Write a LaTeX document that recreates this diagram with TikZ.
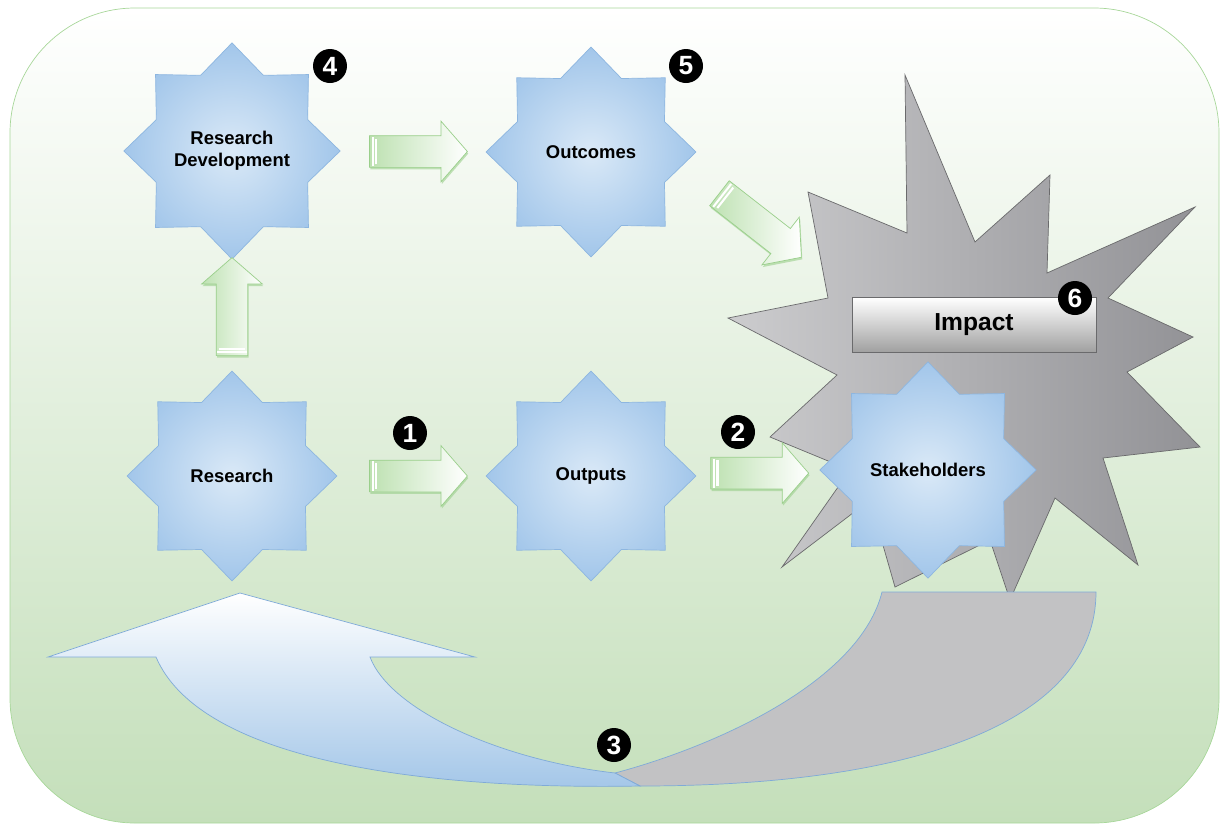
\documentclass[tikz,border=0pt]{standalone}
\usepackage{fontspec}
\setmainfont{Liberation Sans}
\usetikzlibrary{shapes.geometric,shapes.arrows,calc,shadows}

\definecolor{bgbot}{HTML}{C4DFBA}
\definecolor{bgline}{HTML}{A8D79A}
\definecolor{starin}{HTML}{DAE9F7}
\definecolor{starout}{HTML}{A2C6EA}
\definecolor{starline}{HTML}{8DB6E0}
\definecolor{arrgreen}{HTML}{BDE1B1}
\definecolor{arrline}{HTML}{9ACF8B}
\definecolor{boomlight}{HTML}{CCCCCE}
\definecolor{boomdark}{HTML}{929296}
\definecolor{boomline}{HTML}{6A6A6C}
\definecolor{loopblue}{HTML}{A3C6E8}
\definecolor{loopline}{HTML}{7FAAD8}
\definecolor{loopgray}{HTML}{C2C2C4}

\tikzset{
  starnode/.style={star, star points=8, star point ratio=1.32, minimum size=4.2cm,
    inner sep=0pt, draw=starline, inner color=starin, outer color=starout,
    font=\bfseries\fontsize{10.5}{12.5}\selectfont, align=center},
  greenarrow/.style={single arrow, minimum height=1.96cm, inner xsep=0pt, inner ysep=0.31cm,
    single arrow head extend=0.29cm, single arrow tip angle=98,
    draw=arrline, left color=arrgreen, right color=white,
    drop shadow={shadow xshift=0.5pt, shadow yshift=-1.2pt, fill=arrline, opacity=0.6}},
  numdot/.style={circle, fill=black, text=white, minimum size=0.68cm, inner sep=0pt,
    font=\bfseries\fontsize{15}{15}\selectfont},
  impactbox/.style={rectangle, minimum width=4.88cm, minimum height=1.1cm, draw=boomline,
    top color=white, bottom color=gray!75, font=\bfseries\fontsize{14}{14}\selectfont}
}
\newcommand{\tailmarks}[1]{%
  \draw[white, line width=1.2pt] ($(#1.before tail)!0.05!(#1.before head)$) -- ($(#1.after tail)!0.05!(#1.after head)$);
  \draw[white, line width=1.2pt] ($(#1.before tail)!0.1!(#1.before head)$) -- ($(#1.after tail)!0.1!(#1.after head)$);}

\begin{document}
\begin{tikzpicture}[x=0.02cm, y=-0.02cm]
  \useasboundingbox (0,0) rectangle (1221,826);
  \draw[bgline, rounded corners=2.5cm, top color=white, middle color=white!80!bgbot, bottom color=bgbot]
    (10,8) rectangle (1219,823);

  % impact burst
  \draw[boomline, left color=boomlight, right color=boomdark]
    (905,75) -- (975,242) -- (1050,175) -- (1047,273) -- (1195,207) -- (1108,298)
    -- (1193,337) -- (1127,372) -- (1200,447) -- (1103,458) -- (1138,565) -- (1055,498)
    -- (1010,600) -- (990,540) -- (895,587) -- (870,500) -- (782,567) -- (850,470)
    -- (770,437) -- (837,375) -- (728,318) -- (828,298) -- (808,192) -- (907,233) -- cycle;
  \node[impactbox] (impact) at (974,325) {Impact};

  % feedback loop
  \draw[loopline, fill=loopgray]
    (640,786) .. controls (920,786) and (1096,720) .. (1096,592) -- (882,592)
    .. controls (860,680) and (720,745) .. (615,773) -- cycle;
  \draw[loopline, top color=white, bottom color=loopblue]
    (156,657) .. controls (200,760) and (420,790) .. (640,786) -- (615,773)
    .. controls (500,760) and (390,710) .. (370,657) -- (475,657) -- (240,593)
    -- (48,657) -- cycle;

  \node[starnode] (resdev) at (232,151) {Research\\Development};
  \node[starnode] (outc) at (591,152) {Outcomes};
  \node[starnode] (res) at (232,476) {Research};
  \node[starnode] (outp) at (591,476) {Outputs};
  \node[starnode] (stake) at (928,470) {Stakeholders};

  \node[greenarrow] (a1) at ($(res)!0.5!(outp)$) {};
  \node[greenarrow] (a2) at ($(outp)!0.48!(stake)$) {};
  \node[greenarrow, rotate=90] (a4) at ($(res)!0.5!(resdev)$) {};
  \node[greenarrow] (a5) at ($(resdev)!0.5!(outc)$) {};
  \node[greenarrow, rotate=-38, minimum height=2.08cm] (a6) at (755,221) {};
  \foreach \a in {a1,a2,a4,a5,a6} {\tailmarks{\a}}

  \node[numdot] (n1) at (410,433) {1};
  \node[numdot] (n2) at (738,432) {2};
  \node[numdot] (n3) at (614,745) {3};
  \node[numdot] (n4) at (330,66) {4};
  \node[numdot] (n5) at (686,66) {5};
  \node[numdot] (n6) at (1075,298) {6};
\end{tikzpicture}
\end{document}
